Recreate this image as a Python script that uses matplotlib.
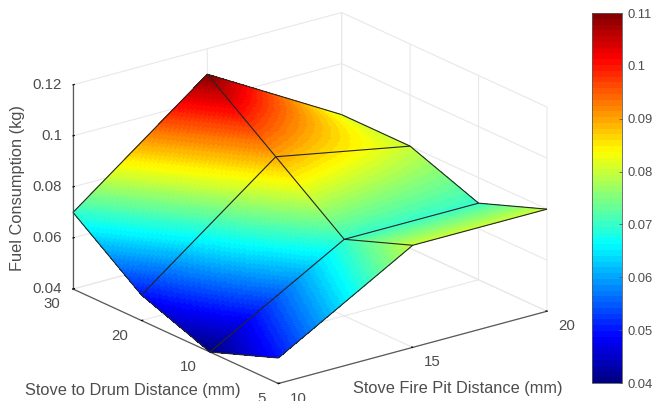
import numpy as np
import matplotlib
matplotlib.use('Agg')
import matplotlib.pyplot as plt
from matplotlib.cm import ScalarMappable
from matplotlib.colors import ListedColormap, Normalize
from mpl_toolkits.mplot3d import proj3d

plt.rcParams['font.family'] = ['Liberation Sans', 'DejaVu Sans']

fire_pit = [10, 15, 20]
drum_labels = ['5', '10', '20', '30']
drum_pos = [0, 1, 2, 3]   # the drum axis is evenly spaced in the original
fuel_5 = [0.05, 0.08, 0.08]
fuel_10 = [0.04, 0.07, 0.07]
fuel_20 = [0.05, 0.09, 0.08]
fuel_30 = [0.07, 0.11, 0.08]
z_ticks = [0.04, 0.06, 0.08, 0.1, 0.12]
z_labels = ['0.04', '0.06', '0.08', '0.1', '0.12']
cbar_ticks = [0.04, 0.05, 0.06, 0.07, 0.08, 0.09, 0.1, 0.11]
cbar_labels = ['0.04', '0.05', '0.06', '0.07', '0.08', '0.09', '0.1', '0.11']

W, H = 656, 401
TEXT = '#4d4d4d'
AXIS = '#595959'
GRID = '#e8e8e8'
BOX = (1.55, 1.55, 1)


def matlab_jet(n=64):
    # matplotlib's jet has its yellow a little higher than the reference
    t = (np.arange(n) + 0.5) / n
    rgb = [np.clip(1.5 - np.abs(4 * t - c), 0, 1) for c in (3, 2, 1)]
    return ListedColormap(np.array(rgb).T)


def shade_grid(x, y, z, n=60):
    # only so the flat polygons look like interpolated shading
    xf = np.linspace(x[0], x[-1], (len(x) - 1) * n + 1)
    yf = np.linspace(y[0], y[-1], (len(y) - 1) * n + 1)
    tmp = np.array([np.interp(xf, x, row) for row in z])
    zf = np.array([np.interp(yf, y, col) for col in tmp.T]).T
    xx, yy = np.meshgrid(xf, yf)
    return xx, yy, zf


fig = plt.figure(figsize=(W / 100, H / 100), dpi=100)
ax = fig.add_axes([0, 0.5 - W / H / 2, 1, W / H], projection='3d', computed_zorder=False)
ax.patch.set_alpha(0)
ax.set_proj_type('ortho')
ax.view_init(elev=20.6, azim=-127.4)

Z = np.array([fuel_5, fuel_10, fuel_20, fuel_30])
X, Y = np.meshgrid(fire_pit, drum_pos)
cmap = matlab_jet()
xx, yy, zz = shade_grid(fire_pit, drum_pos, Z)
ax.plot_surface(xx, yy, zz, rstride=1, cstride=1, cmap=cmap, vmin=0.04, vmax=0.11,
                linewidth=0, antialiased=False, shade=False, zorder=2)
ax.plot_wireframe(X, Y, Z, color='#262626', linewidth=0.8, zorder=3)

ax.set_xlim(10, 20, view_margin=0)
ax.set_ylim(0, 3, view_margin=0)
ax.set_zlim(0.04, 0.12, view_margin=0)
ax.set_xticks(fire_pit)
ax.set_yticks(drum_pos)
ax.set_zticks(z_ticks)
ax.set_xticklabels([])
ax.set_yticklabels([])
ax.set_zticklabels([])

for axis in (ax.xaxis, ax.yaxis, ax.zaxis):
    axis.set_pane_color((1, 1, 1, 0))
    axis.pane.set_edgecolor((1, 1, 1, 0))
    axis.line.set_color(AXIS)
    axis.line.set_linewidth(0.9)
    axis._axinfo['grid'].update(color=GRID, linewidth=0.8)
    axis._axinfo['tick'].update(inward_factor=0.0, outward_factor=0.06)
    axis._axinfo['tick']['color'] = AXIS


def corner(x, y, z):
    px, py, _ = proj3d.proj_transform(x, y, z, ax.get_proj())
    return ax.transData.transform((px, py))


# fit the box onto the corners of the reference
ax.set_box_aspect(BOX)
fig.canvas.draw()
left, right = corner(10, 3, 0.04), corner(20, 0, 0.04)
ax.set_box_aspect(BOX, zoom=474 / (right[0] - left[0]))
fig.canvas.draw()
left = corner(10, 3, 0.04)
pos = ax.get_position(original=True)
ax.set_position([pos.x0 + (73 - left[0]) / W, pos.y0 + ((H - 289) - left[1]) / H, pos.width, pos.height])
fig.canvas.draw()


def label_at(p, off_x, off_y, text, ha):
    fig.text((p[0] + off_x) / W, (p[1] - off_y) / H, text, ha=ha, va='center', fontsize=10.8, color=TEXT)


for v, lab in zip(fire_pit, fire_pit):
    label_at(corner(v, 0, 0.04), 19.5, 15, str(lab), 'center')
for v, lab in zip(drum_pos, drum_labels):
    label_at(corner(10, v, 0.04), -13, 15, lab, 'right')
for v, lab in zip(z_ticks, z_labels):
    label_at(corner(10, 3, v), -11, 0, lab, 'right')

fig.text(18 / W, 1 - 188 / H, 'Fuel Consumption (kg)', rotation=90, ha='center', va='center',
         fontsize=11.8, color=TEXT)
fig.text(132.5 / W, 1 - 390 / H, 'Stove to Drum Distance (mm)', ha='center', va='center',
         fontsize=11.8, color=TEXT)
fig.text(457.5 / W, 1 - 388 / H, 'Stove Fire Pit Distance (mm)', ha='center', va='center',
         fontsize=11.8, color=TEXT)

cax = fig.add_axes([591.5 / W, 1 - 383 / H, 30 / W, 370 / H])
cbar = fig.colorbar(ScalarMappable(Normalize(0.04, 0.11), cmap), cax=cax, ticks=cbar_ticks)
cbar.ax.set_yticklabels(cbar_labels)
cbar.ax.tick_params(direction='in', length=2, width=0.6, color=AXIS, labelcolor=TEXT,
                    labelsize=9.4, pad=4)
cbar.outline.set_edgecolor(AXIS)
cbar.outline.set_linewidth(0.6)

fig.savefig('out.png', dpi=100)
